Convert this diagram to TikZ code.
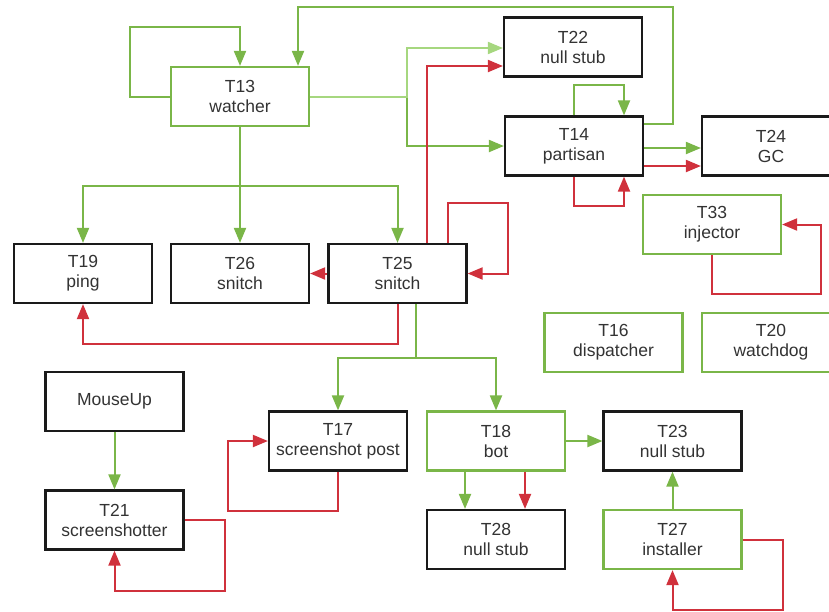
\documentclass[tikz,border=0pt]{standalone}
\usepackage{fontspec}
\setmainfont{Liberation Sans}
\usepackage{tikz}
\usetikzlibrary{arrows.meta,calc}
\definecolor{EdgeGreen}{HTML}{7AB648}
\definecolor{EdgeLime}{HTML}{A6D77F}
\definecolor{EdgeRed}{HTML}{D0313C}
\definecolor{BoxInk}{HTML}{1A1A1A}
\definecolor{LabelInk}{HTML}{333333}

\begin{document}
\begin{tikzpicture}[
  x=1pt,y=-1pt,
  >={Triangle[length=15pt,width=12pt]},
  line join=miter,
  task/.style={draw=BoxInk,line width=2.2pt,fill=white,
    minimum width=138pt,minimum height=59pt,inner sep=0pt,
    align=center,text=LabelInk,font=\fontsize{17.5}{20}\selectfont},
  livetask/.style={task,draw=EdgeGreen},
  okedge/.style={->,draw=EdgeGreen,line width=2pt},
  liteedge/.style={->,draw=EdgeLime,line width=2pt},
  failedge/.style={->,draw=EdgeRed,line width=2pt}
]
  \useasboundingbox (0,0) rectangle (829,611);
  \clip (0,0) rectangle (829,611);

  % tasks
  \node[livetask] (t13) at (240,96.5) {T13\\watcher};
  \node[task] (t22) at (573,47) {T22\\null stub};
  \node[task] (t14) at (574,146) {T14\\partisan};
  \node[task] (t24) at (771,146) {T24\\GC};
  \node[livetask] (t33) at (712,224.5) {T33\\injector};
  \node[task] (t19) at (83,273.5) {T19\\ping};
  \node[task] (t26) at (240,273.5) {T26\\snitch};
  \node[task] (t25) at (397.5,273.5) {T25\\snitch};
  \node[livetask] (t16) at (613.5,342.5) {T16\\dispatcher};
  \node[livetask] (t20) at (771,342.5) {T20\\watchdog};
  \node[task] (mouseup) at (114.5,401.5) {MouseUp};
  \node[task] (t21) at (114.5,520) {T21\\screenshotter};
  \node[task] (t17) at (338,441) {T17\\screenshot post};
  \node[livetask] (t18) at (496,441) {T18\\bot};
  \node[task] (t23) at (672.5,441) {T23\\null stub};
  \node[task] (t28) at (496,539.5) {T28\\null stub};
  \node[livetask] (t27) at (672.5,539.5) {T27\\installer};

  \coordinate (split) at (407,96.5);

  % top rows
  \draw[okedge] (t13.west) -| ++(-40,-70) -| (t13.north);
  \draw[okedge] ($(t14.north east)+(0,9)$) -| ++(29,-117)
    -| ($(t13.north)+(58,0)$);
  \draw[okedge] (split) |- (t14.west);
  \draw[liteedge] (t13.east) -- (split) |- ($(t22.west)+(0,1)$);
  \draw[failedge] ($(t25.north)+(29.5,0)$) |- ($(t22.west)+(0,19)$);
  \draw[okedge] (t14.north) -- ++(0,-30) -| ($(t14.north)+(50,0)$);
  \draw[failedge] (t14.south) -- ++(0,29) -| ($(t14.south)+(50,0)$);
  \draw[okedge] ($(t14.east)+(0,2)$) -- ($(t24.west)+(0,2)$);
  \draw[failedge] ($(t14.east)+(0,20)$) -- ($(t24.west)+(0,20)$);
  \draw[failedge] (t33.south) |- ++(109,39) |- (t33.east);

  % snitch row
  \draw[okedge] (t13.south) -- ++(0,58.5) -| (t19.north);
  \draw[okedge] (t13.south) -- (t26.north);
  \draw[okedge] (t13.south) -- ++(0,58.5) -| (t25.north);
  \draw[failedge] (t25.west) -- (t26.east);
  \draw[failedge] ($(t25.north)+(50.5,0)$) -- ++(0,-40)
    -| ($(t25.east)+(40,0)$) -- (t25.east);
  \draw[failedge] (t25.south) -- ++(0,39.5) -| (t19.south);
  \draw[okedge] ($(t25.south)+(18.5,0)$) -- ++(0,54) -| (t17.north);
  \draw[okedge] ($(t25.south)+(18.5,0)$) -- ++(0,54) -| (t18.north);

  % bottom rows
  \draw[okedge] (mouseup.south) -- (t21.north);
  \draw[failedge] (t21.east) -| ($(t21.south)+(110,40)$) -| (t21.south);
  \draw[failedge] (t17.south) |- ($(t17.west)+(-40,70)$) |- (t17.west);
  \draw[okedge] (t18.east) -- (t23.west);
  \draw[okedge] ($(t18.south)+(-31,0)$) -- ($(t28.north)+(-31,0)$);
  \draw[failedge] ($(t18.south)+(29,0)$) -- ($(t28.north)+(29,0)$);
  \draw[okedge] (t27.north) -- (t23.south);
  \draw[failedge] (t27.east) -| ($(t27.south)+(110,40)$) -| (t27.south);
\end{tikzpicture}
\end{document}
